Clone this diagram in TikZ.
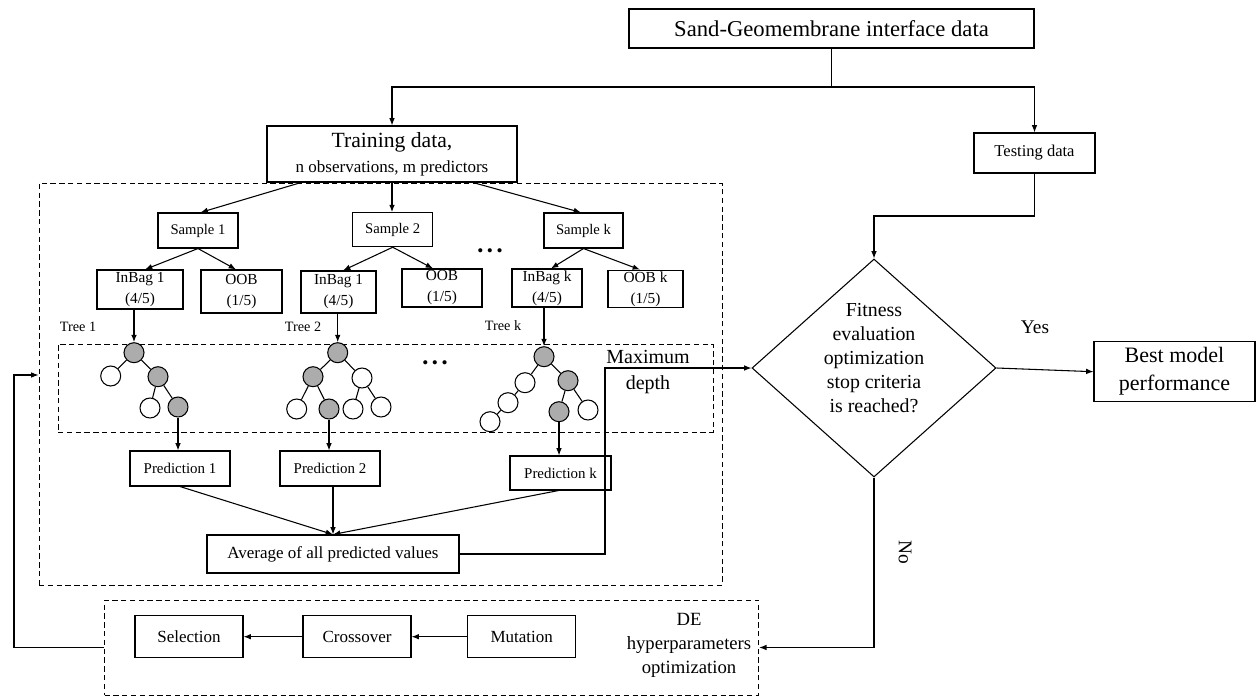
\documentclass[tikz,border=0pt]{standalone}
\usepackage{fontspec}
\setmainfont{Liberation Serif}
\usetikzlibrary{arrows.meta,shapes.geometric,fit,calc}
\begin{document}
\begin{tikzpicture}[x=0.75pt,y=-0.75pt,
 sz/.style 2 args={minimum width={#1*0.75pt},minimum height={#2*0.75pt}},
 box/.style={draw,line width=0.8pt,inner sep=1pt,align=center,fill=white},
 dbox/.style={draw,dashed,dash pattern=on 4pt off 2.6pt,line width=0.7pt,inner sep=0pt},
 arr/.style={line width=0.8pt,-{Latex[length=5.5pt,width=4.2pt]}},
 ln/.style={line width=0.8pt},
 gn/.style={circle,draw,line width=0.8pt,fill=gray!65,minimum size=15pt,inner sep=0pt},
 wn/.style={circle,draw,line width=0.8pt,fill=white,minimum size=15pt,inner sep=0pt},
 lbl/.style={inner sep=0pt,align=center},
 fsmall/.style={font=\fontsize{11pt}{13pt}\selectfont},
 fbag/.style={font=\fontsize{11.5pt}{15.75pt}\selectfont},
 fmid/.style={font=\fontsize{12.75pt}{15pt}\selectfont},
]
\useasboundingbox (0,0) rectangle (1257,696);

% dashed containers
\node[dbox,fit={(39,183)(722,585)}] (rf) {};
\node[dbox,fit={(58,344)(713,432)}] (depthbox) {};
\node[dbox,fit={(104.5,600)(758.7,695)}] (de) {};

% top part
\node[box,sz={405}{39},font=\fontsize{17pt}{20pt}\selectfont] (top) at (831.5,28.5) {Sand-Geomembrane interface data};
\node[box,sz={250}{56},font=\fontsize{12.75pt}{18.5pt}\selectfont] (train) at (392,154) {{\fontsize{16.25pt}{18.5pt}\selectfont Training data,}\\ n observations, m predictors};
\node[box,sz={121}{40},font=\fontsize{12.4pt}{15pt}\selectfont] (test) at (1034.5,153) {Testing data};

% samples
\node[box,sz={80}{35},fsmall] (s1) at (198,230.5) {Sample 1};
\node[box,sz={80}{34},fsmall] (s2) at (392.7,229.7) {Sample 2};
\node[box,sz={79}{35},fsmall] (sk) at (583.5,230.5) {Sample k};
\node[lbl,font=\fontsize{13pt}{13pt}\selectfont] (dots1) at (490,253) {\textbullet\kern2.6pt\textbullet\kern2.6pt\textbullet};

% bags
\node[box,sz={86}{39},fbag] (ib1) at (140,289.5) {InBag 1\\(4/5)};
\node[box,sz={81}{43},fbag] (oob1) at (241.5,291.5) {OOB\\(1/5)};
\node[box,sz={75}{42},fbag] (ib2) at (338.5,292) {InBag 1\\(4/5)};
\node[box,sz={80}{38},fbag] (oob2) at (442,288) {OOB\\(1/5)};
\node[box,sz={70}{38},fbag] (ibk) at (547,288) {InBag k\\(4/5)};
\node[box,sz={75}{36},fbag] (oobk) at (645.5,289) {OOB k\\(1/5)};

% tree labels
\node[lbl,font=\fontsize{10.7pt}{12pt}\selectfont] (tl1) at (78,327) {Tree 1};
\node[lbl,font=\fontsize{10.7pt}{12pt}\selectfont] (tl2) at (303,327) {Tree 2};
\node[lbl,font=\fontsize{10.7pt}{12pt}\selectfont] (tlk) at (503,326) {Tree k};

% tree 1
\node[gn] (t1r) at (134,352.7) {};
\node[wn] (t1a) at (110.7,376) {};
\node[gn] (t1b) at (158,376.7) {};
\node[wn] (t1c) at (150,408) {};
\node[gn] (t1d) at (178,407) {};
\draw[ln] (t1r) -- (t1a); \draw[ln] (t1r) -- (t1b);
\draw[ln] (t1b) -- (t1c); \draw[ln] (t1b) -- (t1d);

% tree 2
\node[gn] (t2r) at (337.7,352.7) {};
\node[gn] (t2a) at (313,376.7) {};
\node[wn] (t2b) at (362,378) {};
\node[wn] (t2c) at (296.7,409) {};
\node[gn] (t2d) at (329,409) {};
\node[wn] (t2e) at (353,409) {};
\node[wn] (t2f) at (381,407) {};
\draw[ln] (t2r) -- (t2a); \draw[ln] (t2r) -- (t2b);
\draw[ln] (t2a) -- (t2c); \draw[ln] (t2a) -- (t2d);
\draw[ln] (t2b) -- (t2e); \draw[ln] (t2b) -- (t2f);

\node[lbl,font=\fontsize{13pt}{13pt}\selectfont] (dots2) at (435,365) {\textbullet\kern2.6pt\textbullet\kern2.6pt\textbullet};

% tree k
\node[gn] (tkr) at (544,356.7) {};
\node[wn] (tka) at (525,382.7) {};
\node[wn] (tkb) at (508,402.7) {};
\node[wn] (tkc) at (490,421.7) {};
\node[gn] (tkd) at (568,380.7) {};
\node[gn] (tke) at (559,411.7) {};
\node[wn] (tkf) at (588,410) {};
\draw[ln] (tkr) -- (tka); \draw[ln] (tka) -- (tkb); \draw[ln] (tkb) -- (tkc);
\draw[ln] (tkr) -- (tkd); \draw[ln] (tkd) -- (tke); \draw[ln] (tkd) -- (tkf);

\node[lbl,font=\fontsize{15pt}{19.5pt}\selectfont] (maxd) at (648,372) {Maximum\\depth};

% predictions
\node[box,sz={100}{35},font=\fontsize{11.2pt}{13pt}\selectfont] (p1) at (180,468.5) {Prediction 1};
\node[box,sz={100}{35},font=\fontsize{11.2pt}{13pt}\selectfont] (p2) at (330,468.5) {Prediction 2};
\node[box,sz={101}{34},font=\fontsize{11.2pt}{13pt}\selectfont] (pk) at (560.5,473) {Prediction k};
\node[box,sz={252}{38},fmid] (avg) at (333,554) {Average of all predicted values};

% decision
\node[diamond,draw,line width=0.8pt,sz={244}{218},inner sep=0pt] (dia) at (874,368) {};
\node[lbl,font=\fontsize{14.9pt}{18pt}\selectfont] (diatext) at (874,358.5) {Fitness\\evaluation\\optimization\\stop criteria\\is reached?};
\node[box,sz={161}{60},font=\fontsize{16.5pt}{21pt}\selectfont] (best) at (1174.5,371.7) {Best model\\performance};
\node[lbl,font=\fontsize{14.5pt}{16pt}\selectfont] (yes) at (1035,327) {Yes};
\node[lbl,font=\fontsize{14.5pt}{16pt}\selectfont,rotate=-90] (no) at (905,552) {No};

% DE
\node[box,sz={108}{42},fmid] (sel) at (189,636.7) {Selection};
\node[box,sz={108}{42},fmid] (cross) at (357,636.7) {Crossover};
\node[box,sz={108}{42},fmid] (mut) at (521.7,636.7) {Mutation};
\node[lbl,font=\fontsize{14pt}{18pt}\selectfont] (detext) at (689,645) {DE\\hyperparameters\\optimization};

% connectors
\coordinate (j1) at (831.5,87);
\draw[ln] (top.south) -- (j1);
\draw[arr] (j1) -| (train.north);
\draw[arr] (j1) -| (test.north);
\draw[arr] ($(train.south)+(-91,0)$) -- ($(s1.north)+(2.5,0)$);
\draw[arr] (train.south) -- (train.south |- s2.north);
\draw[arr] ($(train.south)+(81,0)$) -- ($(sk.north)+(-2.5,0)$);
\draw[arr] (s1.south) -- ($(ib1.north)+(5,0)$);
\draw[arr] (s1.south) -- ($(oob1.north)+(-5.5,0)$);
\draw[arr] (s2.south) -- ($(ib2.north)+(4.5,0)$);
\draw[arr] (s2.south) -- ($(oob2.north)+(-9,0)$);
\draw[arr] (sk.south) -- ($(ibk.north)+(4,0)$);
\draw[arr] (sk.south) -- ($(oobk.north)+(-5.5,0)$);
\draw[arr] (ib1.south -| t1r) -- (t1r);
\draw[arr] (ib2.south -| t2r) -- (t2r);
\draw[arr] (ibk.south -| tkr) -- (tkr);
\draw[arr] (t1d) -- (t1d |- p1.north);
\draw[arr] (t2d) -- (t2d |- p2.north);
\draw[arr] (tke) -- (tke |- pk.north);
\draw[arr] (p1.south) -- (avg.north);
\draw[arr] (p2.south -| avg.north) -- (avg.north);
\draw[arr] ($(pk.south)+(-2,0)$) -- (avg.north);
\coordinate (md) at (605,368);
\draw[arr] (avg.east) -| (md) -- (dia.west);
\coordinate (tj) at (874,216);
\draw[arr] (test.south) |- (tj) -- (dia.north);
\draw[arr] (dia.east) -- (best.west);
\draw[arr] (dia.south) |- (de.east);
\draw[arr] (mut.west) -- (cross.east);
\draw[arr] (cross.west) -- (sel.east);
\coordinate (fb) at (14,375);
\draw[arr] (de.west) -| (fb) -- (rf.west |- fb);
\end{tikzpicture}
\end{document}
